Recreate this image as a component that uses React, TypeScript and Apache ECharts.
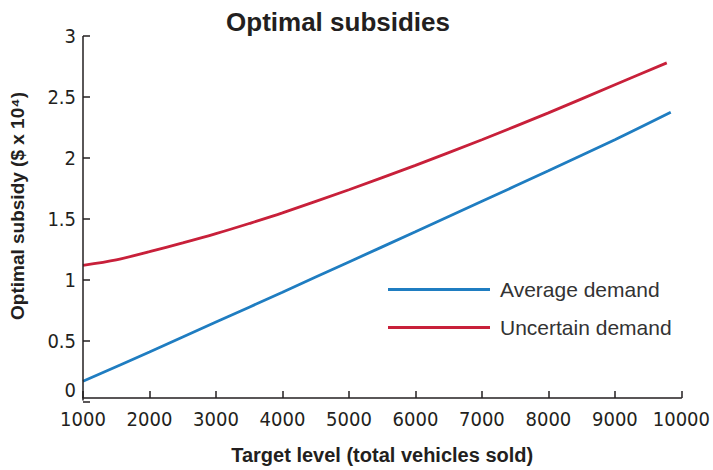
import React, { useEffect, useRef } from "react";
import * as echarts from "echarts";

const avgX = [1000, 2000, 3000, 4000, 5000, 6000, 7000, 8000, 9000, 9840];
const avgY = [0.17, 0.41, 0.655, 0.9, 1.148, 1.395, 1.645, 1.895, 2.15, 2.375];
const uncX = [1000, 1500, 2000, 2500, 3000, 3500, 4000, 5000, 6000, 7000, 8000, 9000, 9780];
const uncY = [1.12, 1.165, 1.232, 1.304, 1.38, 1.463, 1.55, 1.74, 1.94, 2.15, 2.37, 2.6, 2.78];
const seriesNames = ["Average demand", "Uncertain demand"];
const titleText = "Optimal subsidies";
const xName = "Target level (total vehicles sold)";
const yName = "Optimal subsidy ($ x 10\u2074)";

export default function App() {
  const ref = useRef<HTMLDivElement>(null);
  useEffect(() => {
    const chart = echarts.init(ref.current!, null, { renderer: "svg" });
    const axisColor = "#231f20";
    const tickFont = "'Liberation Sans Narrow', 'DejaVu Sans Condensed', 'Liberation Sans', Arial, sans-serif";
    const boldFont = "'Liberation Sans', Arial, sans-serif";
    chart.setOption({
      animation: false,
      backgroundColor: "#ffffff",
      title: {
        text: titleText,
        left: 333,
        top: 4,
        textAlign: "center",
        textStyle: { fontFamily: boldFont, fontWeight: "bold", fontSize: 26, color: "#231f20" },
      },
      legend: {
        orient: "vertical",
        left: 388,
        top: 279,
        padding: 0,
        itemWidth: 102,
        itemHeight: 3,
        itemGap: 17,
        icon: "rect",
        textStyle: { fontFamily: boldFont, fontSize: 21, color: "#333333", padding: [0, 0, 0, 5] },
        data: seriesNames,
      },
      graphic: [
        {
          type: "line",
          shape: { x1: 83, y1: 36, x2: 83, y2: 400.5 },
          style: { stroke: axisColor, lineWidth: 1.5 },
          z: 10,
        },
      ],
      grid: { left: 83, right: 19, top: 36, bottom: 66 },
      xAxis: {
        type: "value",
        min: 1000,
        max: 10000,
        interval: 1000,
        offset: -4,
        name: xName,
        nameLocation: "middle",
        nameGap: 47,
        nameTextStyle: { fontFamily: boldFont, fontWeight: "bold", fontSize: 20, color: "#231f20" },
        axisLine: { show: true, lineStyle: { color: axisColor, width: 1.5 } },
        axisTick: { show: true, inside: true, length: 7, lineStyle: { color: axisColor, width: 1.5 } },
        axisLabel: {
          margin: 11,
          fontFamily: tickFont,
          fontSize: 20,
          color: "#231f20",
          formatter: (v: number) => String(v),
        },
        splitLine: { show: false },
      },
      yAxis: {
        type: "value",
        min: 0,
        max: 3,
        interval: 0.5,
        name: yName,
        nameLocation: "middle",
        nameGap: 56,
        nameRotate: 90,
        nameTextStyle: { fontFamily: boldFont, fontWeight: "bold", fontSize: 19, color: "#231f20", padding: [0, 0, 0, 26] },
        axisLine: { show: false },
        axisTick: { show: true, inside: true, length: 7, lineStyle: { color: axisColor, width: 1.5 } },
        axisLabel: {
          margin: 7,
          fontFamily: tickFont,
          fontSize: 20,
          color: "#231f20",
          formatter: (v: number) => (v === 0 ? "{z|0}" : String(v)),
          rich: { z: { fontFamily: tickFont, fontSize: 20, color: "#231f20", padding: [0, 0, 24, 0] } },
        },
        splitLine: { show: false },
      },
      series: [
        {
          name: seriesNames[0],
          type: "line",
          smooth: 0.3,
          showSymbol: false,
          symbol: "none",
          color: "#1f7dc1",
          lineStyle: { color: "#1f7dc1", width: 2.8 },
          data: avgX.map((x, i) => [x, avgY[i]]),
        },
        {
          name: seriesNames[1],
          type: "line",
          smooth: 0.3,
          showSymbol: false,
          symbol: "none",
          color: "#c8203a",
          lineStyle: { color: "#c8203a", width: 2.8 },
          data: uncX.map((x, i) => [x, uncY[i]]),
        },
      ],
    });
    return () => chart.dispose();
  }, []);
  return <div ref={ref} style={{ width: 713, height: 470, position: "absolute", left: 0, top: 0 }} />;
}
